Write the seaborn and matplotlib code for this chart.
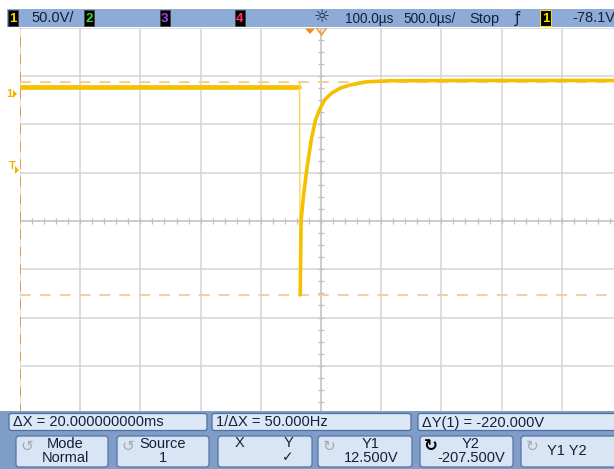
import numpy as np
import pandas as pd
import matplotlib
matplotlib.use("Agg")
import matplotlib.pyplot as plt
from matplotlib.patches import Rectangle, FancyBboxPatch, Polygon
import seaborn as sns

pre_t = [-2.50, -0.180]
pre_v = [8.0, 8.0]
edge_t = [-0.180, -0.178, -0.173]
edge_v = [8.0, 12.0, -207.7]
rec_t = [-0.173, -0.165, -0.143, -0.115, -0.081, -0.046, -0.013, 0.029,
         0.085, 0.154, 0.237, 0.375, 0.569, 1.20, 2.50]
rec_v = [-207.7, -130.0, -102.4, -74.8, -47.2, -26.5, -16.1, -5.8,
         1.1, 6.3, 9.7, 13.1, 14.2, 14.5, 14.5]

y1_cursor = 12.5
y2_cursor = -207.5
volts_per_div = 50.0
time_per_div = 0.5      # ms
screen_center_v = -131.1
trigger_level = -78.1

top_labels = ["50.0V/", "100.0µs", "500.0µs/", "Stop", "-78.1V"]
meas_labels = ["ΔX = 20.000000000ms", "1/ΔX = 50.000Hz", "ΔY(1) = -220.000V"]

sns.set_theme(style="white")
plt.rcParams['font.family'] = ['Liberation Sans Narrow', 'Liberation Sans', 'DejaVu Sans']

W, H = 614, 469
fig = plt.figure(figsize=(W / 100, H / 100), dpi=100)
fig.patch.set_facecolor("white")

# main screen axes (extends slightly past right edge, like the cropped screenshot)
x0, x1, yt, yb = 20, 622, 28, 414
ax = fig.add_axes([x0 / W, 1 - yb / H, (x1 - x0) / W, (yb - yt) / H], zorder=1)
ax.set_facecolor("white")
ax.set_xlim(-5 * time_per_div, 5 * time_per_div)
ax.set_ylim(screen_center_v - 4 * volts_per_div, screen_center_v + 4 * volts_per_div)
ax.set_xticks(np.arange(-5, 6) * time_per_div)
ax.set_yticks(screen_center_v + np.arange(-4, 5) * volts_per_div)
ax.grid(True, color="#d4d4d4", lw=1.1)
ax.tick_params(length=0, labelbottom=False, labelleft=False)
for s in ax.spines.values():
    s.set_visible(False)

# center axes with minor ticks
ax.axhline(screen_center_v, color="#c8c8c8", lw=1.1, zorder=1)
ax.axvline(0, color="#c8c8c8", lw=1.1, zorder=1)
mt = np.arange(-25, 26) * time_per_div / 5
ax.plot(mt, np.full_like(mt, screen_center_v), ls="none", marker="|", ms=5,
        mew=0.9, color="#c0c0c0", zorder=1)
mv = screen_center_v + np.arange(-16, 17) * volts_per_div / 4
ax.plot(np.zeros_like(mv), mv, ls="none", marker="_", ms=5, mew=0.9,
        color="#c0c0c0", zorder=1)

# cursors
cur_col = "#f2cc96"
ax.axhline(y1_cursor, color=cur_col, lw=1.3, ls=(0, (6, 5)), zorder=2)
ax.axhline(y2_cursor, color=cur_col, lw=1.3, ls=(0, (6, 5)), zorder=2)
ax.axvline(-5 * time_per_div + 0.004, color="#e39a4a", lw=1.4, ls=(0, (5, 4)), zorder=4)

# trace
trace_col = "#f5c000"
df_pre = pd.DataFrame({"t": pre_t, "v": pre_v})
df_edge = pd.DataFrame({"t": edge_t, "v": edge_v})
df_rec = pd.DataFrame({"t": rec_t, "v": rec_v})
sns.lineplot(data=df_pre, x="t", y="v", ax=ax, color=trace_col, lw=3.4, sort=False,
             estimator=None, zorder=3)
sns.lineplot(data=df_edge, x="t", y="v", ax=ax, color="#f8d850", lw=1.0, sort=False,
             estimator=None, zorder=3)
sns.lineplot(data=df_rec, x="t", y="v", ax=ax, color=trace_col, lw=2.6, sort=False,
             estimator=None, zorder=3)
ax.set_xlabel("")
ax.set_ylabel("")

# ---------------- overlay (pixel coordinates) ----------------
ov = fig.add_axes([0, 0, 1, 1], zorder=5)
ov.set_xlim(0, W)
ov.set_ylim(H, 0)
ov.axis("off")
ov.patch.set_alpha(0)

txt_col = "#142038"
fs = 10.5

# top status bar
ov.add_patch(Rectangle((7, 9), W - 7, 18, facecolor="#8eaad6", edgecolor="none"))
def chbox(x, label, col):
    ov.add_patch(Rectangle((x, 10), 10, 16, facecolor="black", edgecolor="#444444", lw=0.6))
    ov.text(x + 5, 18.5, label, color=col, ha="center", va="center",
            fontsize=9.5, fontweight="bold")
chbox(7.5, "1", "#f0e000")
ov.text(31, 18.5, top_labels[0], color=txt_col, ha="left", va="center", fontsize=fs)
chbox(84, "2", "#30dd30")
chbox(159.5, "3", "#b040ff")
chbox(234.5, "4", "#ff2d6e")
ov.text(321.5, 17.5, "☼", color=txt_col, ha="center", va="center", fontsize=13,
        family="DejaVu Sans")
ov.text(345, 18.5, top_labels[1], color=txt_col, ha="left", va="center", fontsize=9.8)
ov.text(403, 18.5, top_labels[2], color=txt_col, ha="left", va="center", fontsize=9.8)
ov.text(469, 18.5, top_labels[3], color=txt_col, ha="left", va="center", fontsize=fs)
ov.text(517, 18.5, "ƒ", color=txt_col, ha="center", va="center", fontsize=fs,
        family="DejaVu Sans")
ov.add_patch(Rectangle((540, 10), 11, 16, facecolor="black", edgecolor="#f0e000", lw=0.8))
ov.text(545.5, 18.5, "1", color="#f0e000", ha="center", va="center",
        fontsize=9.5, fontweight="bold")
ov.text(572, 18.5, top_labels[4], color=txt_col, ha="left", va="center", fontsize=fs)

# time reference markers at the top of the screen
ov.add_patch(Polygon([[305, 28.5], [315, 28.5], [310, 34]], closed=True,
                     facecolor="#f08a1c", edgecolor="none"))
ov.plot([317, 321.5, 326], [28.5, 35, 28.5], color="#f0a040", lw=1.3)

# left-side channel / trigger markers
ov.text(9, 94, "1", color="#f0b400", ha="center", va="center", fontsize=8, fontweight="bold")
ov.add_patch(Polygon([[13, 90], [17, 94], [13, 98]], closed=True,
                     facecolor="#f0b400", edgecolor="none"))
ov.text(12, 166, "T", color="#f0b400", ha="center", va="center", fontsize=8, fontweight="bold")
ov.add_patch(Polygon([[15, 166], [19, 170], [15, 174]], closed=True,
                     facecolor="#f0b400", edgecolor="none"))

# bottom soft-key panel
ov.add_patch(Rectangle((0, 411), W, H - 411, facecolor="#7f9dc8", edgecolor="none"))
row1 = [(9, 207), (212, 411), (418, W + 4)]
for (a, b), lab in zip(row1, meas_labels):
    ov.add_patch(FancyBboxPatch((a, 413.5), b - a, 17, boxstyle="round,pad=0,rounding_size=2.5",
                                facecolor="#dde8f6", edgecolor="#4f6f9f", lw=0.9))
    ov.text(a + 4, 422.5, lab, color=txt_col, ha="left", va="center", fontsize=fs)

buttons = [(16, 108), (117, 209), (218, 312), (318, 412), (420, 513), (521, W + 4)]
for a, b in buttons:
    ov.add_patch(FancyBboxPatch((a, 436), b - a, 31, boxstyle="round,pad=0,rounding_size=3",
                                facecolor="#d8e5f5", edgecolor="#5575a8", lw=0.9))

faint = "#a8a8a8"
ov.text(27, 446, "↺", color=faint, ha="center", va="center", fontsize=11, family="DejaVu Sans")
ov.text(65, 444, "Mode", color=txt_col, ha="center", va="center", fontsize=fs)
ov.text(65, 458.5, "Normal", color=txt_col, ha="center", va="center", fontsize=fs)
ov.text(128, 446, "↺", color=faint, ha="center", va="center", fontsize=11, family="DejaVu Sans")
ov.text(163, 444, "Source", color=txt_col, ha="center", va="center", fontsize=fs)
ov.text(163, 458.5, "1", color=txt_col, ha="center", va="center", fontsize=fs)
ov.text(240, 443, "X", color=txt_col, ha="center", va="center", fontsize=fs)
ov.text(288, 443, "Y", color=txt_col, ha="center", va="center", fontsize=fs)
ov.text(288, 457, "✓", color=txt_col, ha="center", va="center", fontsize=10, family="DejaVu Sans")
ov.text(329, 446, "↻", color=faint, ha="center", va="center", fontsize=11, family="DejaVu Sans")
ov.text(371, 444, "Y1", color=txt_col, ha="center", va="center", fontsize=fs)
ov.text(371, 458.5, "12.500V", color=txt_col, ha="center", va="center", fontsize=fs)
ov.text(431, 446, "↻", color="black", ha="center", va="center", fontsize=12,
        family="DejaVu Sans", fontweight="bold")
ov.text(471, 444, "Y2", color=txt_col, ha="center", va="center", fontsize=fs)
ov.text(471, 458.5, "-207.500V", color=txt_col, ha="center", va="center", fontsize=fs)
ov.text(532, 446, "↻", color=faint, ha="center", va="center", fontsize=11, family="DejaVu Sans")
ov.text(567, 451, "Y1 Y2", color=txt_col, ha="center", va="center", fontsize=fs)

fig.savefig("out.png", dpi=100)
